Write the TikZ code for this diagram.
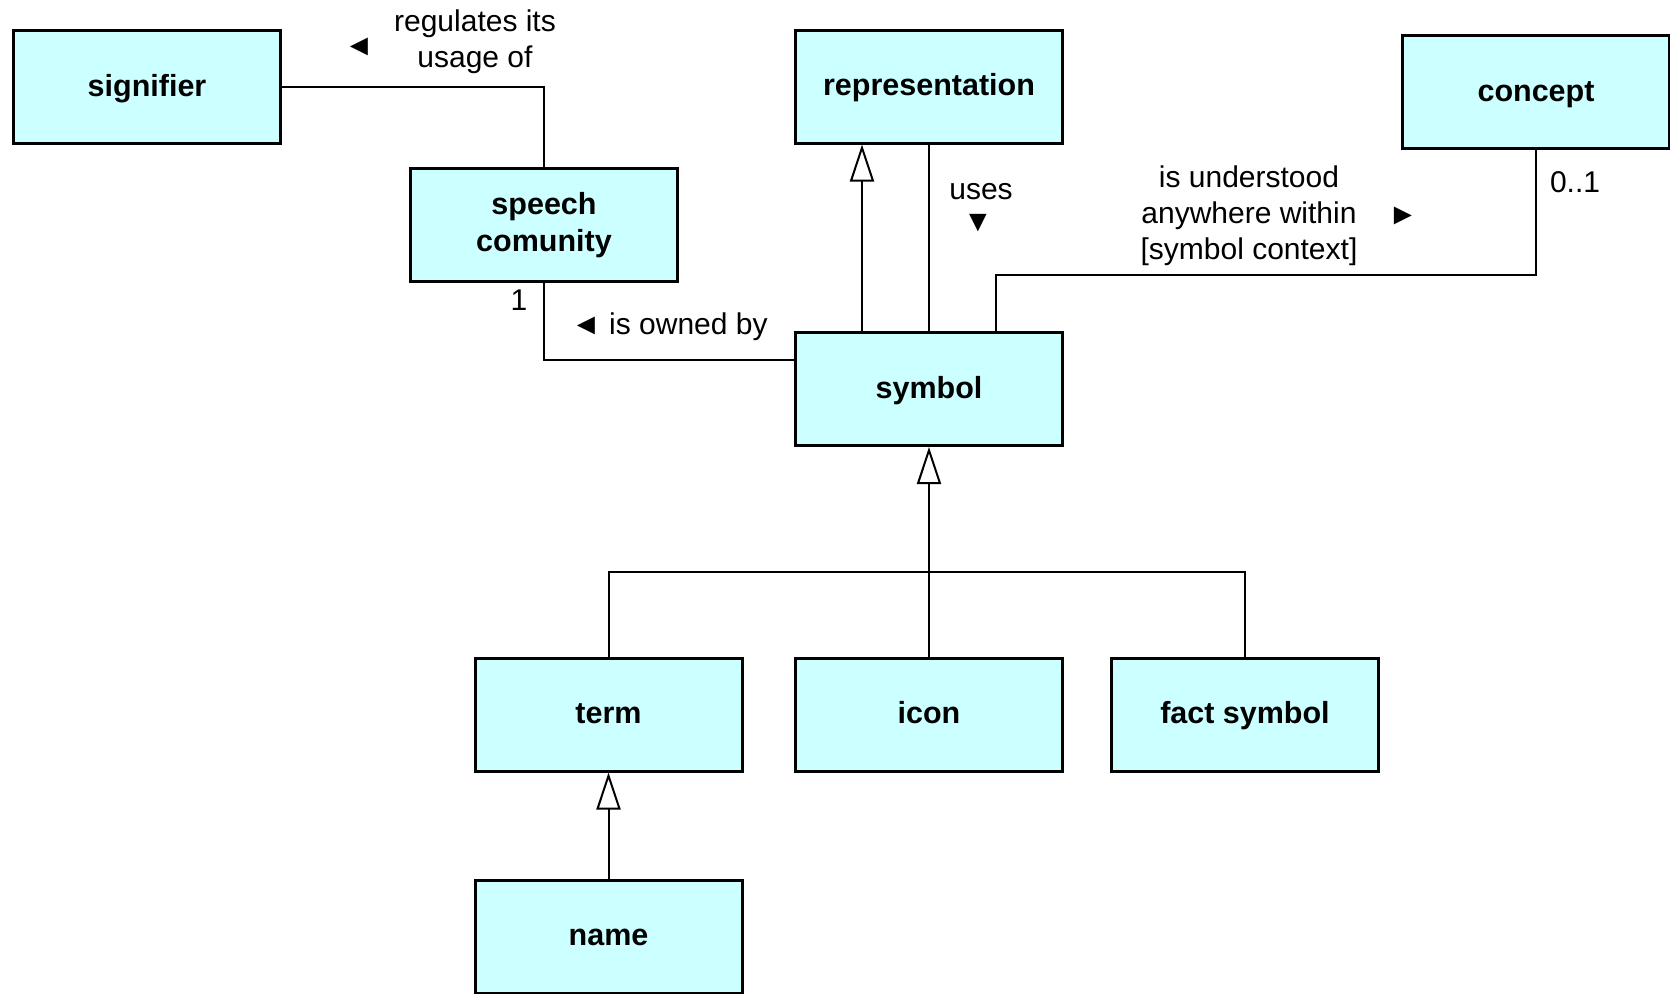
\documentclass[tikz,border=0pt]{standalone}
\usepackage{fontspec}
\setmainfont{Liberation Sans}
\usetikzlibrary{arrows.meta}
\definecolor{boxfill}{HTML}{CCFFFF}
\begin{document}
\begin{tikzpicture}[x=1pt,y=-1pt,
  cls/.style={draw, line width=3pt, fill=boxfill, minimum width=267pt, minimum height=113pt,
    inner sep=0pt, font=\bfseries\fontsize{30.5}{37}\selectfont, align=center},
  one/.style={text height=24pt, text depth=6pt},
  lbl/.style={font=\fontsize{30}{36}\selectfont, align=center, inner sep=0pt},
  conn/.style={line width=2pt},
  gen/.style={conn, -{Triangle[open, length=37pt, width=24pt]}}]
\useasboundingbox (0,0) rectangle (1670,993);
% classes
\node[cls, one] (signifier) at (147,87) {signifier};
\node[cls] (speech) at (544,225) {speech\\comunity};
\node[cls, one] (rep) at (929,86.5) {representation};
\node[cls, one] (concept) at (1536,92) {concept};
\node[cls, one] (symbol) at (929,389) {symbol};
\node[cls, one] (term) at (608.5,714.5) {term};
\node[cls, one] (icon) at (929,714.5) {icon};
\node[cls, one] (fact) at (1245,714.5) {fact symbol};
\node[cls, one] (name) at (608.5,936.5) {name};
% connectors
\draw[conn] (signifier.east) -| (speech.north);
\draw[conn] (speech.south) |- ([yshift=29pt]symbol.west);
\draw[gen] ([xshift=-67pt]symbol.north) -- ([xshift=-67pt]rep.south);
\draw[conn] (symbol.north) -- (rep.south);
\coordinate (cbend) at (996,275);
\draw[conn] ([xshift=67pt]symbol.north) -- (cbend) -| (concept.south);
\coordinate (bar) at (929,572);
\draw[conn] (term.north) |- (bar) -| (fact.north);
\draw[gen] (icon.north) -- (symbol.south);
\draw[gen] (name.north) -- (term.south);
% labels
\node[lbl] (lreg) at (475,42) {regulates its\\usage of};
\node[lbl] (treg) at (359,47) {◄};
\node[lbl, anchor=west] (lown) at (571,327) {◄ is owned by};
\node[lbl] (lone) at (519,300) {1};
\node[lbl] (luses) at (981,192) {uses};
\node[lbl] (tuses) at (978,223) {▼};
\node[lbl] (lund) at (1249,216) {is understood\\anywhere within\\{[symbol context]}};
\node[lbl] (tund) at (1403,216) {►};
\node[lbl] (lmult) at (1575,182) {0..1};
\end{tikzpicture}
\end{document}
